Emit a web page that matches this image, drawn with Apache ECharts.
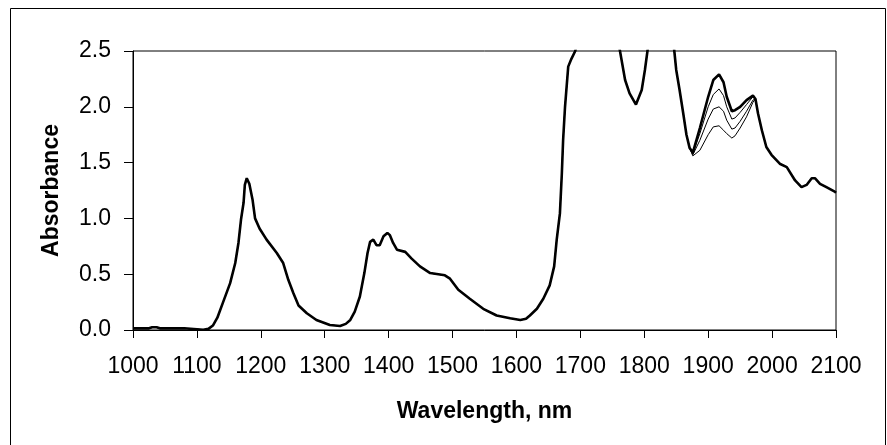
<!DOCTYPE html>
<html>
<head>
<meta charset="utf-8">
<script src="https://cdn.jsdelivr.net/npm/echarts@6/dist/echarts.min.js"></script>
<style>
html,body{margin:0;padding:0;background:#fff;}
#chart{width:887px;height:445px;}
</style>
</head>
<body>
<div id="chart"></div>
<script>
// Common part of all spectra (wavelength in nm, absorbance)
var wavelengthNm = [1000,1025,1030,1033,1037,1042,1080,1082,1110,1118,1125,1132,1141,1152,1160,1165,1169,1173,1175,1178,1182,1187,1191,1198,1209,1225,1235,1243,1251,1259,1272,1287,1308,1324,1333,1340,1347,1355,1362,1367,1371,1376,1381,1386,1392,1398,1402,1407,1413,1426,1436,1449,1465,1488,1496,1509,1527,1548,1569,1590,1606,1615,1621,1632,1642,1652,1659,1663,1668,1671,1673,1676,1681,1686,1692,1700,1720,1740,1755,1762,1770,1777,1787,1796,1801,1805,1812,1828,1842,1847,1850,1855,1861,1866,1871,
  1974,1978,1984,1991,1999,2012,2023,2036,2046,2054,2062,2067,2075,2085,2098,2100];
var absorbanceCommon = [0.015,0.015,0.025,0.033,0.025,0.015,0.015,0.003,0.002,0.01,0.04,0.11,0.25,0.42,0.60,0.78,0.99,1.14,1.30,1.36,1.31,1.17,1.00,0.91,0.81,0.69,0.60,0.45,0.33,0.22,0.15,0.09,0.045,0.036,0.055,0.09,0.165,0.30,0.51,0.69,0.79,0.81,0.76,0.76,0.84,0.87,0.85,0.78,0.72,0.70,0.64,0.57,0.51,0.49,0.46,0.36,0.28,0.19,0.13,0.105,0.09,0.10,0.13,0.19,0.28,0.40,0.57,0.81,1.045,1.40,1.70,2.00,2.36,2.43,2.50,2.70,2.90,2.90,2.70,2.50,2.24,2.12,2.02,2.15,2.33,2.50,2.75,2.90,2.75,2.50,2.33,2.16,1.94,1.75,1.63,
  2.07,1.94,1.79,1.64,1.57,1.49,1.46,1.34,1.28,1.30,1.36,1.36,1.31,1.28,1.24,1.23];

// Band where the spectra separate
var bandWavelengthNm = [1876,1887,1900,1908,1917,1924,1929,1937,1942,1950,1960,1970];
var absorbanceA = [1.59,1.81,2.09,2.24,2.29,2.22,2.09,1.96,1.97,2.00,2.06,2.10];
var absorbanceB = [1.58,1.76,2.00,2.11,2.16,2.10,2.00,1.89,1.90,1.95,2.02,2.09];
var absorbanceC = [1.57,1.70,1.89,1.98,2.00,1.96,1.88,1.80,1.81,1.87,1.96,2.06];
var absorbanceD = [1.56,1.61,1.75,1.82,1.83,1.79,1.76,1.72,1.74,1.81,1.91,2.04];

var xTicks = [1000,1100,1200,1300,1400,1500,1600,1700,1800,1900,2000,2100];
var yTicks = [0.0,0.5,1.0,1.5,2.0,2.5];

function buildSpectrum(band) {
  var pts = [];
  var bandStart = bandWavelengthNm[0], bandEnd = bandWavelengthNm[bandWavelengthNm.length - 1];
  for (var i = 0; i < wavelengthNm.length; i++) {
    if (wavelengthNm[i] < bandStart) pts.push([wavelengthNm[i], absorbanceCommon[i]]);
  }
  for (var j = 0; j < bandWavelengthNm.length; j++) pts.push([bandWavelengthNm[j], band[j]]);
  for (var k = 0; k < wavelengthNm.length; k++) {
    if (wavelengthNm[k] > bandEnd) pts.push([wavelengthNm[k], absorbanceCommon[k]]);
  }
  return pts;
}

var bands = [absorbanceD, absorbanceC, absorbanceB, absorbanceA];
var widths = [1, 1, 1, 2.6];
var series = bands.map(function (b, i) {
  return {
    type: 'line',
    data: buildSpectrum(b),
    showSymbol: false,
    symbol: 'none',
    clip: true,
    lineStyle: { color: '#000', width: widths[i] },
    animation: false
  };
});

var tickFont = 'Liberation Sans, Arial, sans-serif';
var chart = echarts.init(document.getElementById('chart'), null, { renderer: 'canvas' });
chart.setOption({
  animation: false,
  backgroundColor: '#fff',
  graphic: [{
    type: 'rect',
    shape: { x: 10.5, y: 8.5, width: 875, height: 445 },
    style: { fill: 'none', stroke: '#000', lineWidth: 1 },
    silent: true, z: 0
  }],
  grid: { left: 133, top: 51, right: 51, bottom: 115, show: true, borderColor: '#000', borderWidth: 1, backgroundColor: 'transparent' },
  xAxis: {
    type: 'value', min: xTicks[0], max: xTicks[xTicks.length - 1], interval: 100,
    name: 'Wavelength, nm', nameLocation: 'middle', nameGap: 70,
    nameTextStyle: { fontFamily: 'Liberation Sans', fontWeight: 'bold', fontSize: 23, color: '#000' },
    axisLine: { lineStyle: { color: '#000', width: 1 } },
    axisTick: { show: true, inside: false, length: 8, lineStyle: { color: '#000' } },
    axisLabel: { margin: 25, fontFamily: tickFont, fontSize: 23, color: '#000', formatter: function (v) { return String(v); } },
    splitLine: { show: false }
  },
  yAxis: {
    type: 'value', min: yTicks[0], max: yTicks[yTicks.length - 1], interval: 0.5,
    name: 'Absorbance', nameLocation: 'middle', nameGap: 70,
    nameTextStyle: { fontFamily: 'Liberation Sans', fontWeight: 'bold', fontSize: 23, color: '#000' },
    axisLine: { show: true, lineStyle: { color: '#000', width: 1 } },
    axisTick: { show: true, inside: false, length: 9, lineStyle: { color: '#000' } },
    axisLabel: { margin: 22, fontFamily: tickFont, fontSize: 23, color: '#000', formatter: function (v) { return v.toFixed(1); } },
    splitLine: { show: false }
  },
  series: series
});
</script>
</body>
</html>
